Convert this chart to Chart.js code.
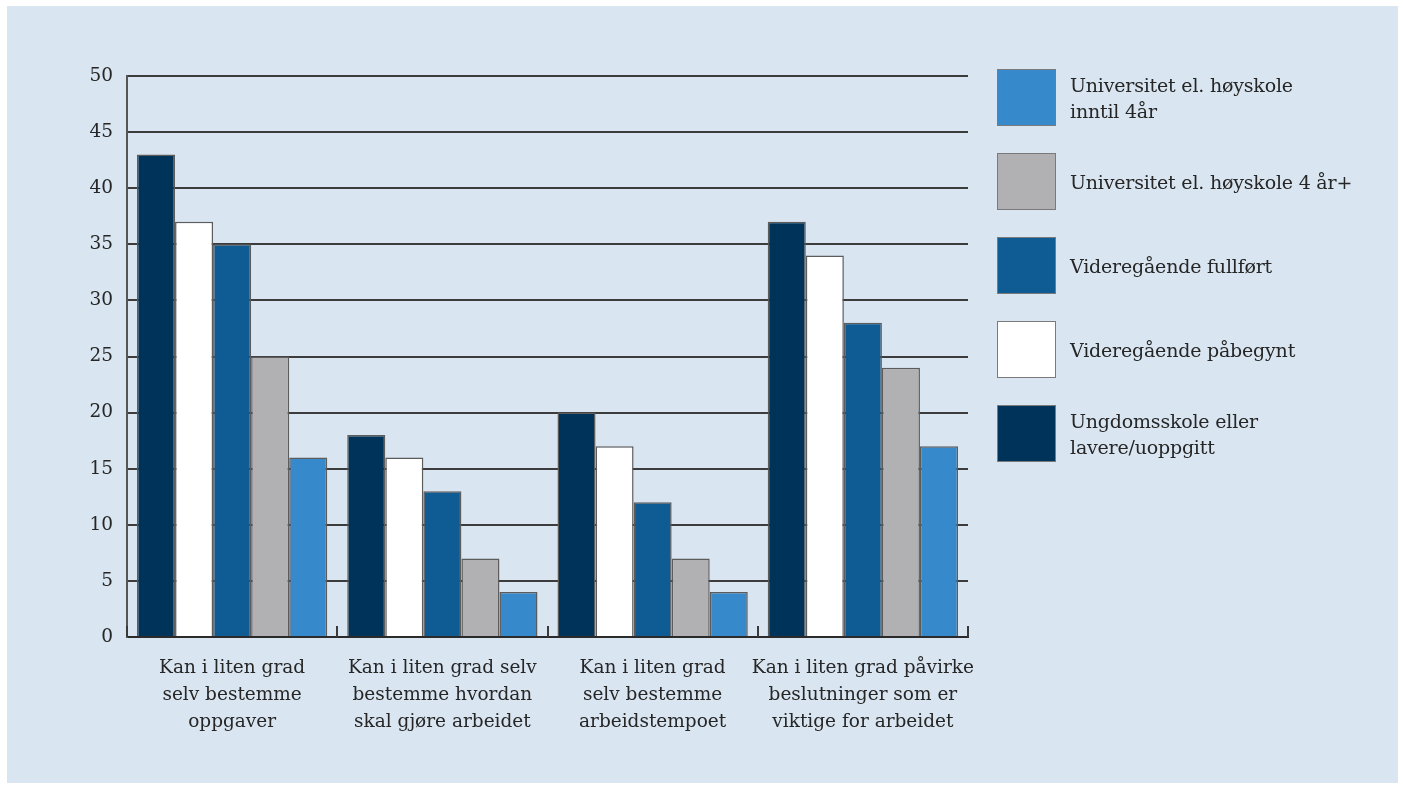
<!DOCTYPE html>
<html lang="no">
<head>
<meta charset="utf-8">
<title>Kan i liten grad selv bestemme – etter utdanning</title>
<script src="https://cdn.jsdelivr.net/npm/chart.js@4.4.1/dist/chart.umd.min.js"></script>
<style>
  html, body { margin: 0; padding: 0; background: #ffffff; }
  body { width: 1403px; height: 785px; position: relative; overflow: hidden; font-family: 'DejaVu Serif', serif; }
  #panel { position: absolute; left: 7px; top: 6px; width: 1391px; height: 777px; background: #d9e5f0; }
  #chart { position: absolute; left: 0; top: 0; }
  #legend { position: absolute; left: 997px; top: 69px; }
  .item { position: absolute; left: 0; width: 400px; height: 57px; }
  .swatch { position: absolute; left: 0; top: 0; width: 57px; height: 55px; border: 1px solid #7a7a7a; }
  .label { position: absolute; left: 73px; top: 50%; transform: translateY(-50%); font-size: 19px; line-height: 26px; color: #262626; white-space: nowrap; letter-spacing: -0.2px; }
</style>
</head>
<body>
<div id="panel"></div>
<canvas id="chart" width="1403" height="785"></canvas>
<div id="legend"></div>
<script>
// Categories (x axis), one array per line of the label
const categories = [
  ["Kan i liten grad", "selv bestemme", "oppgaver"],
  ["Kan i liten grad selv", "bestemme hvordan", "skal gjøre arbeidet"],
  ["Kan i liten grad", "selv bestemme", "arbeidstempoet"],
  ["Kan i liten grad påvirke", "beslutninger som er", "viktige for arbeidet"]
];

// Series values, percent
const ungdomsskole = [43, 18, 20, 37];
const vgPabegynt   = [37, 16, 17, 34];
const vgFullfort   = [35, 13, 12, 28];
const uniOver4     = [25, 7, 7, 24];
const uniInntil4   = [16, 4, 4, 17];

// Series names (legend lines)
const nameUngdomsskole = ["Ungdomsskole eller", "lavere/uoppgitt"];
const nameVgPabegynt   = ["Videregående påbegynt"];
const nameVgFullfort   = ["Videregående fullført"];
const nameUniOver4     = ["Universitet el. høyskole 4 år+"];
const nameUniInntil4   = ["Universitet el. høyskole", "inntil 4år"];

// Y axis ticks
const yTicks = [0, 5, 10, 15, 20, 25, 30, 35, 40, 45, 50];

const palette = {
  navy:  "#00335a",
  white: "#ffffff",
  blue:  "#0f5c94",
  grey:  "#b1b1b3",
  light: "#3689cb"
};

const series = [
  { name: nameUngdomsskole, data: ungdomsskole, color: palette.navy },
  { name: nameVgPabegynt,   data: vgPabegynt,   color: palette.white },
  { name: nameVgFullfort,   data: vgFullfort,   color: palette.blue },
  { name: nameUniOver4,     data: uniOver4,     color: palette.grey },
  { name: nameUniInntil4,   data: uniInntil4,   color: palette.light }
];

Chart.defaults.font.family = "'DejaVu Serif', serif";
Chart.defaults.font.size = 18;
Chart.defaults.color = "#262626";

// Short upward ticks on the x axis at each category boundary
const categoryTicks = {
  id: "categoryTicks",
  afterDatasetsDraw(chart) {
    const x = chart.scales.x;
    const { ctx, chartArea } = chart;
    const n = chart.data.labels.length;
    const step = (x.getPixelForValue(n - 1) - x.getPixelForValue(0)) / (n - 1);
    ctx.save();
    ctx.strokeStyle = "#3a3a3a";
    ctx.lineWidth = 2;
    for (let i = 0; i <= n; i++) {
      const px = Math.round(x.getPixelForValue(0) - step / 2 + i * step);
      ctx.beginPath();
      ctx.moveTo(px, chartArea.bottom);
      ctx.lineTo(px, chartArea.bottom - 11);
      ctx.stroke();
    }
    ctx.restore();
  }
};

new Chart(document.getElementById("chart"), {
  type: "bar",
  data: {
    labels: categories,
    datasets: series.map(s => ({
      label: s.name.join(" "),
      data: s.data,
      backgroundColor: s.color,
      borderColor: "#5c5c5c",
      borderWidth: 1.5,
      barPercentage: 1,
      categoryPercentage: 0.905
    }))
  },
  options: {
    responsive: false,
    animation: false,
    layout: { padding: { left: 0, right: 435, top: 76, bottom: 0 } },
    plugins: {
      legend: { display: false },
      tooltip: { enabled: false }
    },
    scales: {
      x: {
        grid: { display: false, drawTicks: false },
        border: { display: true, color: "#2a2a2a", width: 2 },
        ticks: { padding: 18, font: { size: 18.5, lineHeight: 27 / 18.5 }, color: "#262626", maxRotation: 0, autoSkip: false },
        afterFit(scale) { scale.height = 148; }
      },
      y: {
        min: 0,
        max: 50,
        afterBuildTicks(scale) { scale.ticks = yTicks.map(v => ({ value: v })); },
        grid: { color: "#3c3c3c", lineWidth: 2, drawTicks: false },
        border: { display: true, color: "#555555", width: 2 },
        ticks: { padding: 14, font: { size: 18.5 }, color: "#262626" },
        afterFit(scale) { scale.width = 127; }
      }
    }
  },
  plugins: [categoryTicks]
});

// Legend, listed in reverse series order
const legend = document.getElementById("legend");
series.slice().reverse().forEach((s, i) => {
  const item = document.createElement("div");
  item.className = "item";
  item.style.top = (i * 84) + "px";
  const sw = document.createElement("div");
  sw.className = "swatch";
  sw.style.background = s.color;
  const lab = document.createElement("div");
  lab.className = "label";
  lab.innerHTML = s.name.join("<br>");
  item.appendChild(sw);
  item.appendChild(lab);
  legend.appendChild(item);
});
</script>
</body>
</html>
